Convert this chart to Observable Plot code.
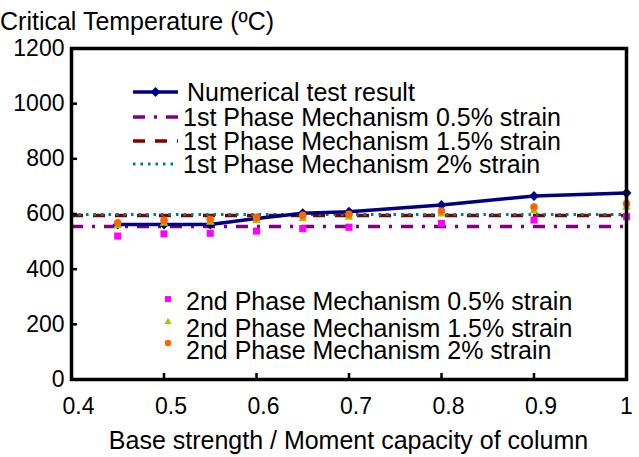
<!DOCTYPE html>
<html><head><meta charset="utf-8">
<script src="https://cdn.jsdelivr.net/npm/d3@7"></script>
<script src="https://cdn.jsdelivr.net/npm/@observablehq/plot@0.6"></script>
<style>body{margin:0;background:#fff;} #chart{width:639px;height:457px;}</style>
</head><body><div id="chart"></div>
<script>
// ---- data ----
const xValues = [0.45, 0.5, 0.55, 0.6, 0.65, 0.7, 0.8, 0.9, 1.0];
const numerical = [562, 562, 562, 584, 603, 608, 633, 665, 676];
const phase2_05 = [520, 528, 530, 538, 547, 552, 566, 578, 590];
const phase2_15 = [558, 566, 570, 576, 583, 588, 600, 612, 625];
const phase2_2  = [568, 577, 581, 587, 595, 599, 611, 625, 637];
const phase1Names = ["1st Phase Mechanism 0.5% strain", "1st Phase Mechanism 1.5% strain", "1st Phase Mechanism 2% strain"];
const phase1Values = [555, 595, 598];
const phase2Names = ["2nd Phase Mechanism 0.5% strain", "2nd Phase Mechanism 1.5% strain", "2nd Phase Mechanism 2% strain"];
const numericalName = "Numerical test result";
const yTicks = [0, 200, 400, 600, 800, 1000, 1200];
const xTicks = [0.4, 0.5, 0.6, 0.7, 0.8, 0.9, 1.0];
const titleText = "Critical Temperature (ºC)";
const xLabel = "Base strength / Moment capacity of column";

// ---- styles ----
const FONT = "'Liberation Sans', Arial, Helvetica, sans-serif";
const C = {navy: "#000080", purple: "#800080", dred: "#800000", teal: "#008080", magenta: "#FF00FF", green: "#99CC00", orange: "#FF6600"};
const p1Styles = [
  {stroke: C.purple, strokeWidth: 3.5, strokeDasharray: "12,9,3,9"},
  {stroke: C.dred, strokeWidth: 3.5, strokeDasharray: "12,10"},
  {stroke: C.teal, strokeWidth: 3, strokeDasharray: "2.5,5", strokeLinecap: "butt"}
];
const p2Styles = [
  {symbol: "square", fill: C.magenta, r: 4},
  {symbol: "triangle", fill: C.green, r: 3.2},
  {symbol: "circle", fill: C.orange, r: 3.8}
];

const rows = (ys) => xValues.map((x, i) => ({x, y: ys[i]}));

const W = 639, H = 457, mL = 71, mR = 13, mT = 48, mB = 78;
const pw = W - mL - mR, ph = H - mT - mB;
const TICKFS = 23, TXTFS = 25;

const plot = Plot.plot({
  width: W, height: H, marginLeft: mL, marginRight: mR, marginTop: mT, marginBottom: mB,
  style: {fontFamily: FONT, fontSize: TICKFS + "px", background: "white", color: "black"},
  x: {domain: [0.4, 1.0]},
  y: {domain: [0, 1200]},
  marks: [
    ...phase1Values.map((v, i) => Plot.ruleY([v], p1Styles[i])),
    Plot.line(rows(numerical), {x: "x", y: "y", stroke: C.navy, strokeWidth: 3.5}),
    Plot.dot(rows(numerical), {x: "x", y: "y", symbol: "diamond2", r: 4.5, fill: C.navy}),
    ...[phase2_05, phase2_15, phase2_2].map((ys, i) => Plot.dot(rows(ys), {x: "x", y: "y", ...p2Styles[i]})),
    Plot.axisY({ticks: yTicks, tickSize: 0, tickPadding: 7, label: null, fontSize: TICKFS, tickFormat: d => String(d)}),
    Plot.axisX({ticks: xTicks.slice(0, -1), tickSize: 0, tickPadding: 18, dx: 7, label: null, fontSize: TICKFS,
      tickFormat: d => d.toFixed(1)}),
    Plot.axisX({ticks: xTicks.slice(-1), tickSize: 0, tickPadding: 18, label: null, fontSize: TICKFS,
      tickFormat: d => String(d)}),
    Plot.ruleY(yTicks.slice(1, -1), {stroke: "black", strokeWidth: 2.5, insetRight: pw - 6}),
    Plot.ruleX(xTicks.slice(1, -1), {stroke: "black", strokeWidth: 2.5, insetTop: ph - 6}),
    Plot.frame({stroke: "black", strokeWidth: 3.5})
  ]
});
document.getElementById("chart").appendChild(plot);

// ---- title, axis label, legends ----
const svg = d3.select(plot);
const addText = (x, y, t, anchor = "start") => svg.append("text")
  .attr("x", x).attr("y", y).attr("dy", "0.35em")
  .attr("text-anchor", anchor).attr("font-family", FONT).attr("font-size", TXTFS).attr("fill", "black").text(t);

addText(0, 21, titleText);
addText(mL + pw / 2, 440, xLabel, "middle");

// legend 1
const lg1Y = [92, 117, 141, 164];
const sx0 = 133, sx1 = 178;
const g1 = svg.append("g");
g1.append("line").attr("x1", sx0).attr("x2", sx1).attr("y1", lg1Y[0]).attr("y2", lg1Y[0])
  .attr("stroke", C.navy).attr("stroke-width", 3.5);
g1.append("path").attr("d", d3.symbol(d3.symbolDiamond2, Math.PI * 4.5 * 4.5)())
  .attr("transform", `translate(${(sx0 + sx1) / 2},${lg1Y[0]})`).attr("fill", C.navy);
addText(187, lg1Y[0], numericalName);
phase1Names.forEach((n, i) => {
  const s = p1Styles[i];
  g1.append("line").attr("x1", sx0).attr("x2", sx1).attr("y1", lg1Y[i + 1]).attr("y2", lg1Y[i + 1])
    .attr("stroke", s.stroke).attr("stroke-width", s.strokeWidth).attr("stroke-dasharray", s.strokeDasharray);
  addText(183, lg1Y[i + 1], n);
});

// legend 2
const symMap = {square: d3.symbolSquare, triangle: d3.symbolTriangle, circle: d3.symbolCircle};
const lg2M = [299, 322, 343];
const lg2T = [301, 328, 350];
phase2Names.forEach((n, i) => {
  const s = p2Styles[i];
  svg.append("path").attr("d", d3.symbol(symMap[s.symbol], Math.PI * s.r * s.r * 0.7)())
    .attr("transform", `translate(168,${lg2M[i]})`).attr("fill", s.fill);
  addText(186, lg2T[i], n);
});
</script></body></html>
